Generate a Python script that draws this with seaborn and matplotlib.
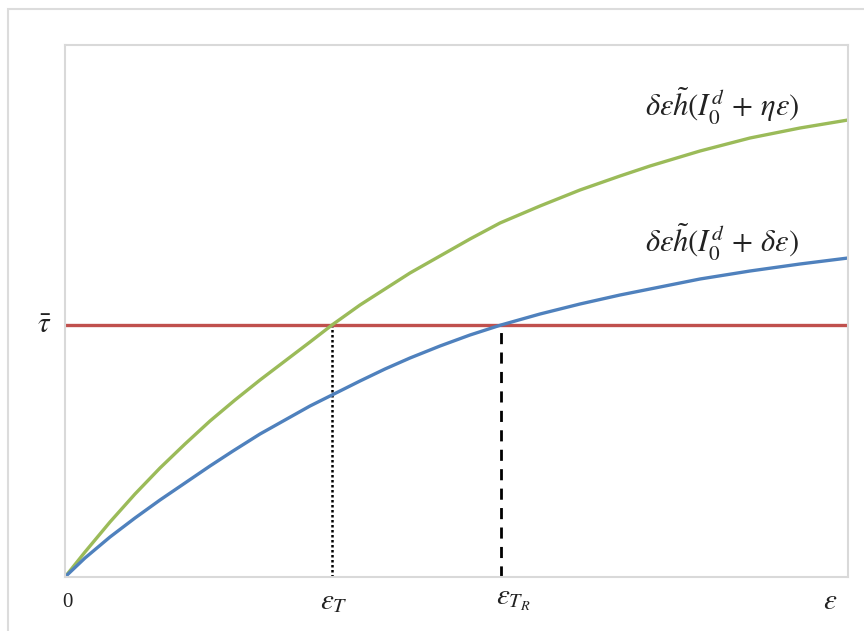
import numpy as np
import pandas as pd
import matplotlib
matplotlib.use("Agg")
import matplotlib.pyplot as plt
import seaborn as sns
from matplotlib.patches import Rectangle

# ---- data (arbitrary units) ----
eps_green = [0, 20, 45, 70, 95, 120, 145, 170, 195, 220, 245, 267, 295, 320, 345,
             375, 405, 435, 475, 515, 555, 585, 635, 685, 735, 783]
h_green = [0, 25, 55, 83, 109, 133, 156, 177, 197, 216, 235, 252, 272, 288, 304,
           321, 338, 354, 371, 387, 401, 411, 426, 439, 449, 457]
eps_blue = [0, 20, 45, 70, 95, 120, 145, 168, 195, 220, 245, 267, 295, 320, 345,
            375, 405, 436, 475, 515, 555, 585, 635, 685, 735, 783]
h_blue = [0, 19, 40, 59, 77, 94, 111, 126, 143, 157, 171, 182, 196, 208, 219,
          231, 242, 252, 263, 273, 282, 288, 298, 306, 313, 319]
tau_bar = 252
eps_T = 267
eps_TR = 436
eps_max = 783
h_max = 532
labels = [r"$\delta\varepsilon\tilde{h}(I_0^d\,+\,\eta\varepsilon)$",
          r"$\delta\varepsilon\tilde{h}(I_0^d\,+\,\delta\varepsilon)$"]

sns.set_theme(style="white")
plt.rcParams["mathtext.fontset"] = "stix"
plt.rcParams["font.family"] = ["DejaVu Serif"]

df = pd.concat([
    pd.DataFrame({"eps": eps_green, "h": h_green, "curve": "green"}),
    pd.DataFrame({"eps": eps_blue, "h": h_blue, "curve": "blue"}),
])

fig = plt.figure(figsize=(8.64, 6.31), dpi=100)
ax = fig.add_axes([65/864, (631-577)/631, (848-65)/864, (577-45)/631])

# outer frame
fig.patches.append(Rectangle((8/864, -0.1), 1.2, (631-9)/631 + 0.1,
                             transform=fig.transFigure, fill=False,
                             edgecolor="#dcdcdc", lw=1.5))

sns.lineplot(data=df, x="eps", y="h", hue="curve",
             palette={"green": "#9bbb59", "blue": "#4f81bd"},
             lw=2.4, legend=False, ax=ax, sort=True)
for ln in ax.lines:
    ln.set_solid_joinstyle("round")
    ln.set_solid_capstyle("round")
ax.axhline(tau_bar, color="#c0504d", lw=2.4, zorder=1)
ax.plot([eps_T, eps_T], [0, tau_bar], color="black", lw=1.8, ls=(0, (1, 1)), zorder=0)
ax.plot([eps_TR, eps_TR], [0, tau_bar], color="black", lw=2.0, ls=(0, (4, 3)), zorder=0)

ax.set_xlim(0, eps_max)
ax.set_ylim(0, h_max)
ax.set_xticks([])
ax.set_yticks([])
ax.set_xlabel("")
ax.set_ylabel("")
for s in ax.spines.values():
    s.set_color("#d9d9d9")
    s.set_linewidth(1.5)

# curve labels
ax.text(657, 471, labels[0], fontsize=22, ha="center", va="center", color="#222222")
ax.text(657, 335, labels[1], fontsize=22, ha="center", va="center", color="#222222")

# axis labels
ax.text(2, -16, "0", fontsize=15, ha="center", va="top",
        family="Liberation Serif", color="#222222")
ax.text(eps_T + 2, -10, r"$\varepsilon_T$", fontsize=21, ha="center", va="top", color="#222222")
ax.text(eps_TR + 12, -8, r"$\varepsilon_{T_R}$", fontsize=21, ha="center", va="top", color="#222222")
ax.text(765, -10, r"$\varepsilon$", fontsize=21, ha="center", va="top", color="#222222")
ax.text(-21, tau_bar, r"$\bar{\tau}$", fontsize=21, ha="center", va="center", color="#222222")

fig.savefig("out.png", dpi=100)
